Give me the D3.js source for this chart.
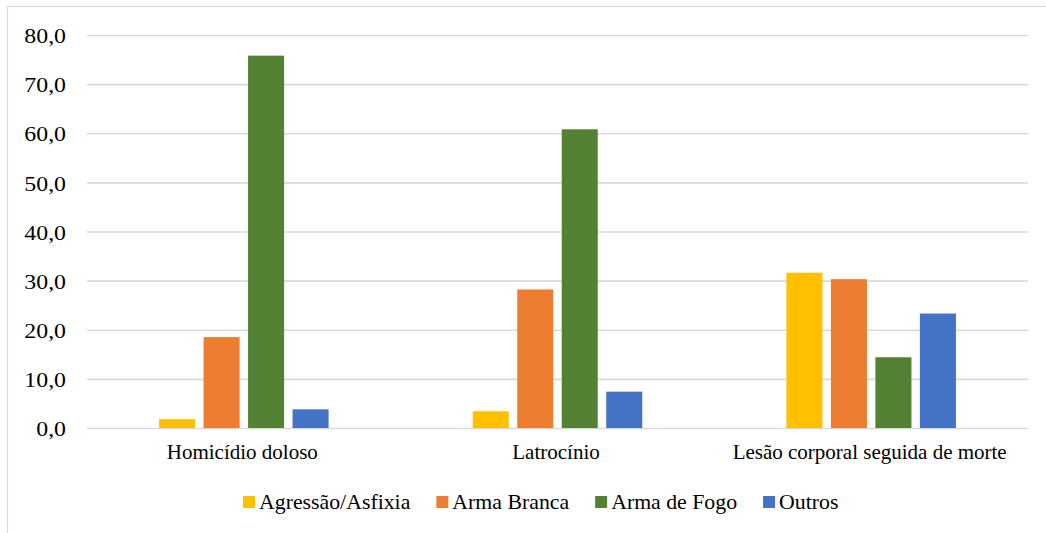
<!DOCTYPE html>
<html>
<head>
<meta charset="utf-8">
<script src="https://cdn.jsdelivr.net/npm/d3@7"></script>
<style>
  html, body { margin: 0; padding: 0; background: #fff; }
  svg { display: block; }
</style>
</head>
<body>
<svg id="chart" width="1046" height="533"></svg>
<script>
// Causa da morte por tipo de crime (%)
const categories = ["Homicídio doloso", "Latrocínio", "Lesão corporal seguida de morte"];
const seriesNames = ["Agressão/Asfixia", "Arma Branca", "Arma de Fogo", "Outros"];
const agressaoAsfixia = [1.8, 3.4, 31.6];
const armaBranca      = [18.5, 28.2, 30.3];
const armaDeFogo      = [75.8, 60.8, 14.4];
const outros          = [3.8, 7.4, 23.3];
const yTicks = [0, 10, 20, 30, 40, 50, 60, 70, 80];
const colors = ["#FFC000", "#ED7D31", "#548235", "#4472C4"];

const seriesValues = [agressaoAsfixia, armaBranca, armaDeFogo, outros];
const FONT = "'Liberation Serif'";

const svg = d3.select("#chart");
const W = 1046, H = 533;
const plot = { left: 87, right: 1028, top: 35, bottom: 428 };

// outer frame
svg.append("rect")
  .attr("x", 7.5).attr("y", 6.5)
  .attr("width", W).attr("height", H)
  .attr("fill", "#fff").attr("stroke", "#d9d9d9").attr("stroke-width", 1.2);

const y = d3.scaleLinear().domain([0, 80]).range([plot.bottom, plot.top]);
const x0 = d3.scaleBand().domain(categories).range([plot.left, plot.right]).padding(0);
const x1 = d3.scaleBand().domain(seriesNames).range([0, x0.bandwidth()])
  .paddingInner(0.19).paddingOuter(1.62);

// gridlines and value labels
const yAxis = d3.axisLeft(y).tickValues(yTicks)
  .tickSize(-(plot.right - plot.left)).tickPadding(0)
  .tickFormat(d => d3.format(".1f")(d).replace(".", ","));
const gy = svg.append("g").attr("transform", `translate(${plot.left},0)`).call(yAxis);
gy.select(".domain").remove();
gy.selectAll(".tick line").attr("stroke", "#d9d9d9").attr("stroke-width", 1.6);
gy.selectAll(".tick text")
  .attr("x", 0).attr("dy", null).attr("y", 0)
  .attr("text-anchor", "end")
  .attr("fill", "#000")
  .attr("transform", "translate(-21,7.7) scale(1.19,1)")
  .style("font-family", FONT).style("font-size", "20px");

// bars
const rows = categories.map((c, i) => ({
  category: c,
  values: seriesNames.map((s, j) => ({ series: s, value: seriesValues[j][i], color: colors[j] }))
}));

const groups = svg.append("g").selectAll("g").data(rows).join("g")
  .attr("transform", d => `translate(${x0(d.category)},0)`);
groups.selectAll("rect").data(d => d.values).join("rect")
  .attr("x", d => x1(d.series))
  .attr("width", x1.bandwidth())
  .attr("y", d => y(d.value))
  .attr("height", d => y(0) - y(d.value))
  .attr("fill", d => d.color);

// category labels
const xAxis = d3.axisBottom(x0).tickSize(0).tickPadding(0);
const gx = svg.append("g").attr("transform", `translate(-1.5,${plot.bottom})`).call(xAxis);
gx.select(".domain").remove();
gx.selectAll(".tick text")
  .attr("y", 31).attr("dy", null)
  .attr("fill", "#000")
  .style("font-family", FONT).style("font-size", "21px");

// legend
const legend = svg.append("g").attr("transform", "translate(243,0)");
let lx = 0;
seriesNames.forEach((s, i) => {
  const item = legend.append("g").attr("transform", `translate(${lx},0)`);
  item.append("rect").attr("x", 0).attr("y", 496).attr("width", 12).attr("height", 12)
    .attr("fill", colors[i]);
  const t = item.append("text").attr("x", 16).attr("y", 509)
    .attr("fill", "#000")
    .style("font-family", FONT).style("font-size", "21.8px").text(s);
  lx += 16 + t.node().getComputedTextLength() + 26;
});
</script>
</body>
</html>
